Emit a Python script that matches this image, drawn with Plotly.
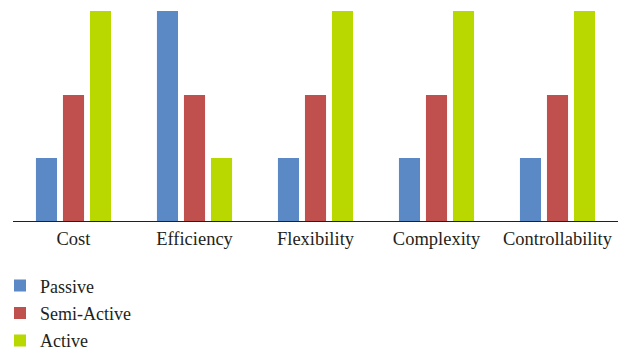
import plotly.graph_objects as go

categories = ["Cost", "Efficiency", "Flexibility", "Complexity", "Controllability"]
passive = [3, 10, 3, 3, 3]
semi_active = [6, 6, 6, 6, 6]
active = [10, 3, 10, 10, 10]

series = [
    ("Passive", passive, "#5B89C5"),
    ("Semi-Active", semi_active, "#C0504D"),
    ("Active", active, "#B8D800"),
]

fig = go.Figure()
for name, vals, color in series:
    fig.add_trace(go.Bar(x=categories, y=vals, name=name, legendgroup=name,
                         marker=dict(color=color, line=dict(width=0))))

font_family = "Liberation Serif"
plot_left = 13 / 618  # fraction of the paper width left of the axis

fig.update_layout(
    width=624, height=353,
    margin=dict(l=0, r=6, t=11, b=132, pad=0, autoexpand=False),
    paper_bgcolor="white", plot_bgcolor="white",
    barmode="group", bargap=0.33, bargroupgap=0.22,
    font=dict(family=font_family, size=18, color="#231F20"),
    xaxis=dict(domain=[plot_left, 1], showline=True, linecolor="#231F20",
               linewidth=1.3, showgrid=False, ticks="", tickfont=dict(size=18.5),
               ticklabelstandoff=1),
    yaxis=dict(range=[0, 10], visible=False, showgrid=False, zeroline=False),
    showlegend=True,
    legend=dict(orientation="v", x=0.0, xanchor="left", y=-0.221, yanchor="top",
                font=dict(size=18), tracegroupgap=1, bgcolor="rgba(0,0,0,0)"),
)

fig.write_html("out.html")
